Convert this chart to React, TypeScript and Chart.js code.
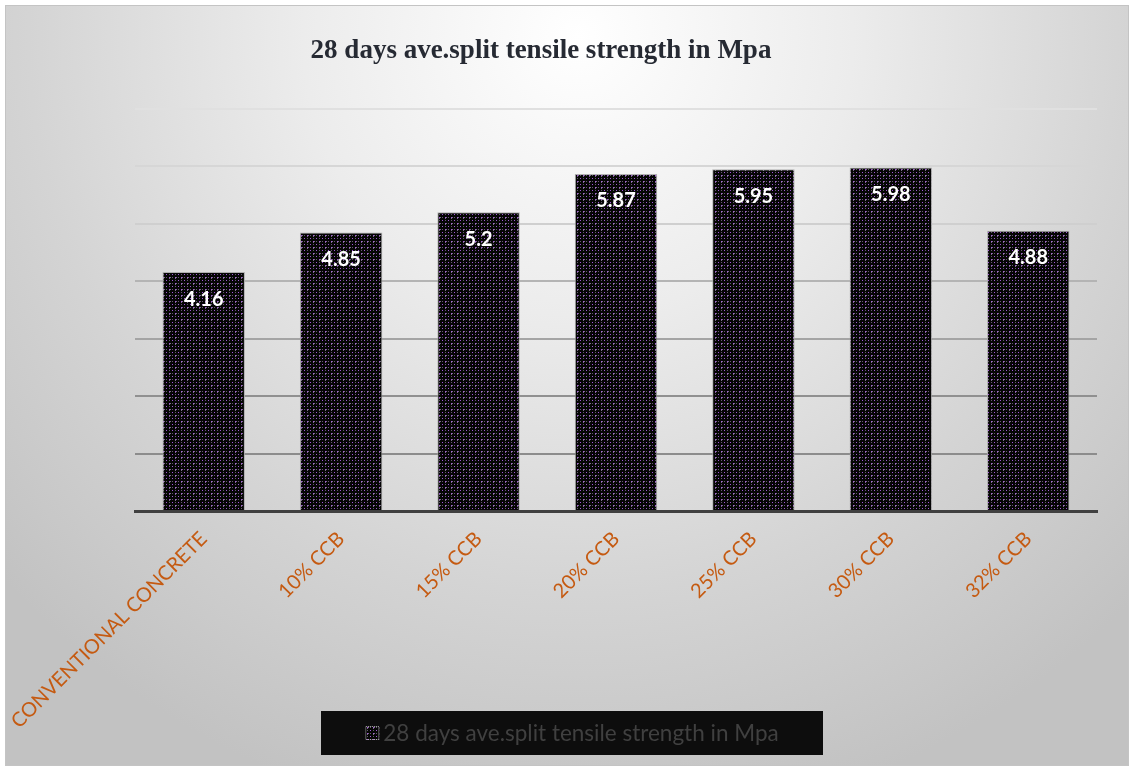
import React, { useEffect, useRef } from "react";
import { Chart, registerables } from "chart.js";

Chart.register(...registerables);

const categories = [
  "CONVENTIONAL CONCRETE",
  "10% CCB",
  "15% CCB",
  "20% CCB",
  "25% CCB",
  "30% CCB",
  "32% CCB",
];
const strengthValues = [4.16, 4.85, 5.2, 5.87, 5.95, 5.98, 4.88];
const seriesLabel = "28 days ave.split tensile strength in Mpa";
const chartTitle = "28 days ave.split tensile strength in Mpa";
const yMin = 0;
const yMax = 7;
const yStep = 1;

const W = 1122;
const H = 759;

// Small dotted tile used as the bar fill
function makeDotPattern(ctx: CanvasRenderingContext2D): CanvasPattern | string {
  const tile = document.createElement("canvas");
  tile.width = 6;
  tile.height = 6;
  const t = tile.getContext("2d");
  if (!t) return "#111";
  t.fillStyle = "#050505";
  t.fillRect(0, 0, 6, 6);
  t.fillStyle = "#a455dc";
  t.fillRect(1, 1, 1, 1);
  t.fillRect(4, 4, 1, 1);
  t.fillStyle = "#7a6e86";
  t.fillRect(2, 1, 1, 1);
  t.fillRect(1, 2, 1, 1);
  t.fillStyle = "#625c6a";
  t.fillRect(4, 1, 1, 1);
  t.fillRect(1, 4, 1, 1);
  return ctx.createPattern(tile, "repeat") || "#111";
}

const gridShade: Record<number, string> = {
  7: "#e0e0e0",
  6: "#d6d6d6",
  5: "#cfcfcf",
  4: "#b4b4b4",
  3: "#a4a4a4",
  2: "#909090",
  1: "#8c8c8c",
  0: "rgba(0,0,0,0)",
};

export default function App() {
  const canvasRef = useRef<HTMLCanvasElement | null>(null);

  useEffect(() => {
    document.body.style.margin = "0";
    const canvas = canvasRef.current;
    if (!canvas) return;
    const ctx = canvas.getContext("2d");
    if (!ctx) return;
    const pattern = makeDotPattern(ctx);

    const titlePlugin = {
      id: "fixedTitle",
      afterDraw(chart: any) {
        const c = chart.ctx;
        c.save();
        c.font = "bold 27px 'Liberation Serif', 'Times New Roman', serif";
        c.fillStyle = "#262a33";
        c.textAlign = "center";
        c.textBaseline = "middle";
        c.fillText(chartTitle, chart.width / 2 - 26, 45);
        c.restore();
      },
    };

    const valueLabels = {
      id: "valueLabels",
      afterDatasetsDraw(chart: any) {
        const c = chart.ctx;
        const meta = chart.getDatasetMeta(0);
        c.save();
        c.font = "bold 20px Lato, 'Open Sans', sans-serif";
        c.fillStyle = "#ffffff";
        c.textAlign = "center";
        c.textBaseline = "middle";
        meta.data.forEach((bar: any, i: number) => {
          c.fillText(String(chart.data.datasets[0].data[i]), bar.x, bar.y + 27);
        });
        c.restore();
      },
    };

    const boxLegend = {
      id: "boxLegend",
      afterDraw(chart: any) {
        const c = chart.ctx;
        const bw = 502;
        const bh = 44;
        const bx = chart.width / 2 - bw / 2 + 5;
        const by = 705;
        c.save();
        c.fillStyle = "#0d0d0d";
        c.fillRect(bx, by, bw, bh);
        c.font = "22.5px Lato, 'Open Sans', sans-serif";
        const tw = c.measureText(seriesLabel).width;
        const sw = 14;
        const gap = 4;
        const total = sw + gap + tw;
        const sx = bx + (bw - total) / 2;
        const cy = by + bh / 2;
        c.fillStyle = pattern as any;
        c.fillRect(sx, cy - sw / 2, sw, sw);
        c.strokeStyle = "#bdbdbd";
        c.lineWidth = 1;
        c.setLineDash([1, 1]);
        c.strokeRect(sx + 0.5, cy - sw / 2 + 0.5, sw - 1, sw - 1);
        c.setLineDash([]);
        c.fillStyle = "#404040";
        c.textAlign = "left";
        c.textBaseline = "middle";
        c.fillText(seriesLabel, sx + sw + gap, cy + 1);
        c.restore();
      },
    };

    const chart = new Chart(canvas, {
      type: "bar",
      data: {
        labels: categories,
        datasets: [
          {
            label: seriesLabel,
            data: strengthValues,
            backgroundColor: pattern as any,
            borderColor: "rgba(170,170,170,0.9)",
            borderWidth: 1,
            barPercentage: 0.6,
            categoryPercentage: 1,
          },
        ],
      },
      options: {
        animation: false,
        responsive: false,
        devicePixelRatio: 1,
        layout: { padding: { left: 129, right: 31, top: 103, bottom: 0 } },
        plugins: {
          legend: { display: false },
          title: { display: false },
          tooltip: { enabled: false },
        },
        scales: {
          x: {
            grid: { display: false },
            border: { display: true, color: "#404040", width: 3 },
            ticks: {
              color: "#c55a11",
              font: { family: "Lato, 'Open Sans', sans-serif", size: 20 },
              minRotation: 45,
              maxRotation: 45,
              autoSkip: false,
              padding: 8,
            },
            afterFit(scale: any) {
              scale.height = 254;
              scale.paddingLeft = 0;
              scale.paddingRight = 0;
            },
          },
          y: {
            min: yMin,
            max: yMax,
            ticks: { display: false, stepSize: yStep },
            border: { display: false },
            grid: {
              drawTicks: false,
              lineWidth: 2,
              color: (c: any) => gridShade[c.tick?.value] ?? "#cccccc",
            },
            afterFit(scale: any) {
              scale.width = 0;
              scale.paddingTop = 0;
              scale.paddingBottom = 0;
            },
          },
        },
      },
      plugins: [titlePlugin, valueLabels, boxLegend],
    });

    return () => chart.destroy();
  }, []);

  return (
    <div style={{ position: "relative", width: 1130, height: 767 }}>
      <div
        style={{
          position: "absolute",
          left: 5,
          top: 5,
          width: W,
          height: H,
          border: "1px solid #c4c4c4",
          boxSizing: "content-box",
          background:
            "radial-gradient(ellipse 70% 105% at 51% 4%, #ffffff 0%, #ececec 35%, #d4d4d4 70%, #c2c2c2 100%)",
        }}
      >
        <canvas ref={canvasRef} width={W} height={H} style={{ display: "block" }} />
      </div>
    </div>
  );
}
